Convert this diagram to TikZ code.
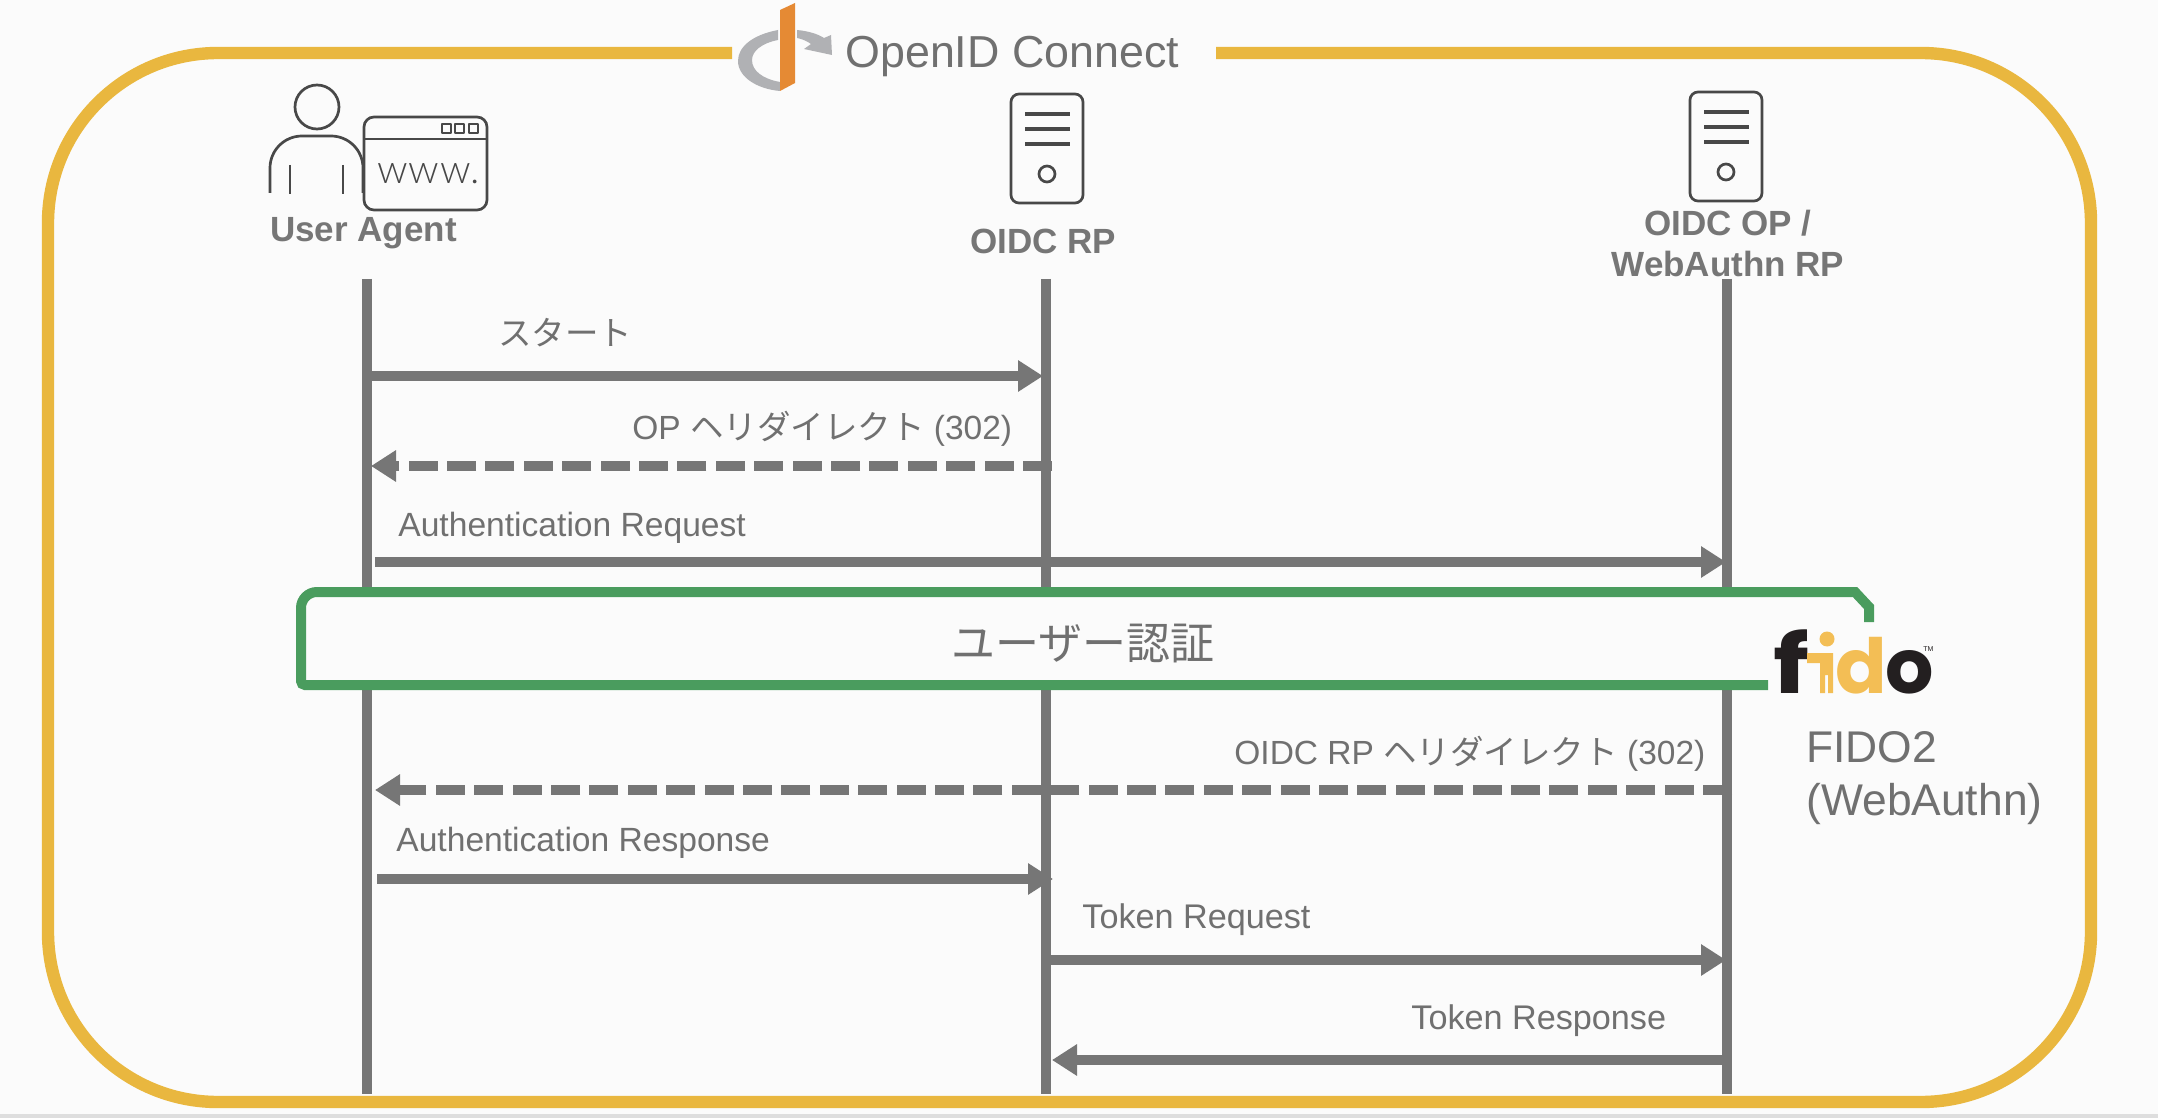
\documentclass[tikz,border=0pt]{standalone}
\usepackage{fontspec}
\usepackage{graphicx}
\setmainfont{Liberation Sans}
\newfontfamily\cjk{Noto Sans CJK JP}
\newfontfamily\logof{Poppins}
\newfontfamily\thinf[LetterSpace=2]{Lato Light}
\usetikzlibrary{arrows.meta}
\definecolor{pagebg}{HTML}{FBFBFB}
\definecolor{strip}{HTML}{DEDEDE}
\definecolor{seqgray}{HTML}{767676}
\definecolor{txtgray}{HTML}{707070}
\definecolor{framey}{HTML}{E9B73F}
\definecolor{boxgreen}{HTML}{4A9C5E}
\definecolor{icondark}{HTML}{484848}
\definecolor{logogray}{HTML}{B0B1B4}
\definecolor{logoor}{HTML}{E58A34}
\definecolor{fidoy}{HTML}{F3BE55}
\definecolor{fidok}{HTML}{231F20}
\tikzset{
  lifeline/.style={draw=seqgray,line width=5pt},
  msg/.style={draw=seqgray,line width=5pt,-{Triangle[length=12.5pt,width=15pt]}},
  ret/.style={msg,dash pattern=on 14.5pt off 4.7pt},
  lbl/.style={anchor=base west,inner sep=0pt,text=txtgray,font=\fontsize{16.75}{20}\selectfont},
  lble/.style={lbl,font=\fontsize{16.8}{20}\selectfont},
  lblt/.style={lbl,font=\fontsize{17.1}{20}\selectfont},
  actor/.style={inner sep=0pt,text=seqgray,font=\fontsize{17.5}{21}\bfseries\selectfont,anchor=base},
  icon/.style={draw=icondark,line width=1.35pt,line join=round},
  iconline/.style={draw=icondark,line width=1.6pt},
  bigt/.style={anchor=base west,inner sep=0pt,text=txtgray,font=\fontsize{22.2}{27}\selectfont},
  logot/.style={anchor=base west,inner sep=0pt,font=\fontsize{38}{40}\bfseries\logof\selectfont},
}
\begin{document}
\begin{tikzpicture}[x=0.5pt,y=-0.5pt]
\useasboundingbox (0,0) rectangle (2158,1118);
\fill[pagebg] (0,0) rectangle (2158,1118);
\fill[strip] (0,1114) rectangle (2158,1118);
% frame
\coordinate (fl) at (732,53);
\coordinate (fr) at (1216,53);
\draw[framey,line width=6.2pt,rounded corners=85pt] (fl) -- (48,53) -- (48,1102) -- (2091,1102) -- (2091,53) -- (fr);
% OpenID logo
\fill[logogray] (778,30) .. controls (752,35) and (738,47) .. (738,61) .. controls (738,77) and (757,89) .. (780,91) -- (780,82) .. controls (763,79) and (752,71) .. (752,60) .. controls (752,51) and (762,43) .. (778,40) -- cycle;
\fill[logogray] (797,30) .. controls (808,31) and (818,34) .. (824,38) -- (831,35) -- (832,55) -- (804,49) -- (811,44) .. controls (807,41) and (802,39) .. (797,38) -- cycle;
\fill[logoor] (780,10) -- (795,3) -- (795,83) -- (780,91) -- cycle;
\node[bigt,font=\fontsize{22.4}{27}\selectfont] (title) at (845,68) {OpenID Connect};
% lifelines
\coordinate (uat) at (367,279); \coordinate (uab) at (367,1094);
\coordinate (rpt) at (1046,279); \coordinate (rpb) at (1046,1094);
\coordinate (opt) at (1727,279); \coordinate (opb) at (1727,1094);
\draw[lifeline] (uat) -- (uab);
\draw[lifeline] (rpt) -- (rpb);
\draw[lifeline] (opt) -- (opb);
% messages
\coordinate (m1a) at (367,376); \coordinate (m1b) at (1043,376);
\coordinate (m2a) at (1052,466); \coordinate (m2b) at (371,466);
\coordinate (m3a) at (375,562); \coordinate (m3b) at (1726,562);
\coordinate (m4a) at (1732,790); \coordinate (m4b) at (375,790);
\coordinate (m5a) at (377,879); \coordinate (m5b) at (1053,879);
\coordinate (m6a) at (1046,960); \coordinate (m6b) at (1726,960);
\coordinate (m7a) at (1727,1060); \coordinate (m7b) at (1052,1060);
\draw[msg] (m1a) -- (m1b);
\draw[ret] (m2a) -- (m2b);
\draw[msg] (m3a) -- (m3b);
\draw[ret] (m4a) -- (m4b);
\draw[msg] (m5a) -- (m5b);
\draw[msg] (m6a) -- (m6b);
\draw[msg] (m7a) -- (m7b);
\node[lbl] (l1) at (498,345) {\cjk スタート};
\node[lbl] (l2) at (632,439) {OP {\cjk ヘリダイレクト} (302)};
\node[lble] (l3) at (398,536) {Authentication Request};
\node[lbl] (l4) at (1234,764) {OIDC RP {\cjk ヘリダイレクト} (302)};
\node[lble] (l5) at (396,851) {Authentication Response};
\node[lblt] (l6) at (1082,928) {Token Request};
\node[lblt] (l7) at (1411,1029) {Token Response};
% user auth box
\fill[pagebg] (1869,622) -- (1869,607) -- (1855,592) -- (301,592) -- (301,685) -- (1869,685) -- cycle;
\draw[boxgreen,line width=5pt] (1869,622) -- (1869,607) -- (1855,592) [rounded corners=8pt] -- (301,592) [rounded corners=2pt] -- (301,685) [sharp corners] -- (1768,685);
\node[inner sep=0pt,text=txtgray,font=\fontsize{22}{27}\cjk\selectfont] (auth) at (1083,643.5) {ユーザー認証};
% fido logo
\node[logot,text=fidok] (ff) at (1773,693) {\scalebox{1.32}[1.07]{f}};
\fill[fidoy] (1807,653) -- (1833,653) -- (1833,693) -- (1828,693) -- (1828,675) -- (1825,675) -- (1825,693) -- (1820,693) -- (1820,663) -- (1807,663) -- cycle;
\fill[fidoy] (1827,639) circle[radius=7.5];
\node[logot,text=fidoy] (fd) at (1835,693) {d};
\node[logot,text=fidok] (fo) at (1885,693) {o};
\node[anchor=base west,inner sep=0pt,text=fidok,font=\fontsize{3.5}{4}\selectfont] (tm) at (1923,651) {TM};
\node[bigt] (f2a) at (1806,762) {FIDO2};
\node[bigt] (f2b) at (1806,815) {(WebAuthn)};
% user icon
\draw[icon] (317,107) circle[radius=22];
\draw[icon,rounded corners=16pt] (270,193) -- (270,136) -- (363,136) -- (363,193);
\draw[icon] (290,165) -- (290,194);
\draw[icon] (343,165) -- (343,194);
\fill[pagebg,draw=icondark,line width=1.35pt,rounded corners=5pt] (364,117) rectangle (487,210);
\draw[icon] (364,139) -- (487,139);
\draw[icon,line width=1.1pt] (442,124) rectangle (451,133);
\draw[icon,line width=1.1pt] (455,124) rectangle (464,133);
\draw[icon,line width=1.1pt] (469,124) rectangle (478,133);
\node[anchor=base west,inner sep=0pt,text=icondark,font=\fontsize{20}{22}\thinf\selectfont] (www) at (377,184) {www.};
\node[actor] (ua) at (363.5,242) {User Agent};
% servers
\foreach \dx/\dy in {0/0,-679/2}{
  \begin{scope}[shift={(\dx,\dy)}]
  \draw[icon,rounded corners=4pt] (1690,92) rectangle (1762,201);
  \draw[iconline] (1704,112) -- (1749,112);
  \draw[iconline] (1704,127) -- (1749,127);
  \draw[iconline] (1704,142) -- (1749,142);
  \draw[icon] (1726,172) circle[radius=8];
  \end{scope}
}
\node[actor] (rp) at (1043,254) {OIDC RP};
\node[actor] (op1) at (1728,236) {OIDC OP /};
\node[actor] (op2) at (1728,277) {WebAuthn RP};
\end{tikzpicture}
\end{document}
